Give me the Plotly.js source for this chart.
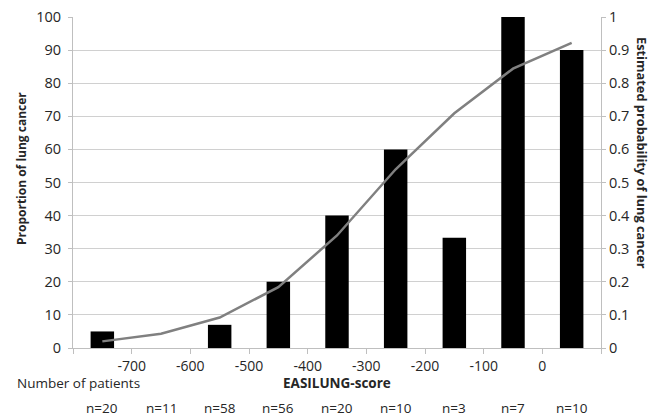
<!DOCTYPE html>
<html>
<head>
<meta charset="utf-8">
<script src="https://cdn.plot.ly/plotly-3.0.1.min.js"></script>
<style>html,body{margin:0;padding:0;background:#fff;}#chart{width:650px;height:418px;}</style>
</head>
<body>
<div id="chart"></div>
<script>
const scoreCenters = [-750, -650, -550, -450, -350, -250, -150, -50, 50];
const proportionLungCancer = [5, 0, 7, 20, 40, 60, 33.3, 100, 90];
const estimatedProbability = [0.02, 0.043, 0.092, 0.184, 0.34, 0.54, 0.709, 0.844, 0.922];
const patientCounts = ["n=20", "n=11", "n=58", "n=56", "n=20", "n=10", "n=3", "n=7", "n=10"];
const xTickValues = [-800, -700, -600, -500, -400, -300, -200, -100, 0, 100];
const xTickLabels = ["", "-700", "-600", "-500", "-400", "-300", "-200", "-100", "0", ""];

const FONT = "Open Sans, Noto Sans, sans-serif";
const TXT = "#262626";
const L = 73, R = 601, T = 17, B = 348;

const traces = [
  {
    type: "bar",
    x: scoreCenters,
    y: proportionLungCancer,
    width: 40,
    marker: {color: "#000000", line: {color: "#000000", width: 0}},
    yaxis: "y",
    hoverinfo: "skip"
  },
  {
    type: "scatter",
    mode: "lines",
    x: scoreCenters,
    y: estimatedProbability,
    line: {color: "#808080", width: 2.5},
    yaxis: "y2",
    hoverinfo: "skip"
  }
];

function py(pix) { return (B - pix) / (B - T); }
function px(pix) { return (pix - L) / (R - L); }

const annotations = patientCounts.map((t, i) => ({
  x: scoreCenters[i], xref: "x", y: py(408), yref: "paper",
  text: t, showarrow: false, xanchor: "center", yanchor: "middle",
  font: {family: FONT, size: 13.5, color: TXT}
}));
annotations.push(
  {x: px(15), xref: "paper", y: py(383), yref: "paper", text: "Number of patients", showarrow: false,
   xanchor: "left", yanchor: "middle", font: {family: FONT, size: 13.5, color: TXT}},
  {x: -350, xref: "x", y: py(383), yref: "paper", text: "<b>EASILUNG-score</b>", showarrow: false,
   xanchor: "center", yanchor: "middle", font: {family: FONT, size: 13.5, color: TXT}},
  {x: px(22), xref: "paper", y: py(169), yref: "paper", text: "<b>Proportion of lung cancer</b>", showarrow: false,
   textangle: -90, xanchor: "center", yanchor: "middle", font: {family: FONT, size: 12, color: TXT}},
  {x: px(642), xref: "paper", y: py(153), yref: "paper", text: "<b>Estimated probability of lung cancer</b>", showarrow: false,
   textangle: 90, xanchor: "center", yanchor: "middle", font: {family: FONT, size: 12.8, color: TXT}}
);

const layout = {
  width: 650, height: 418,
  margin: {l: L, r: 650 - R, t: T, b: 418 - B, pad: 0},
  paper_bgcolor: "#ffffff",
  plot_bgcolor: "#ffffff",
  showlegend: false,
  font: {family: FONT, size: 14, color: TXT},
  xaxis: {
    range: [-800, 100],
    tickmode: "array", tickvals: xTickValues, ticktext: xTickLabels,
    ticks: "outside", ticklen: 5, tickcolor: "#bfbfbf", tickwidth: 1,
    showgrid: false, zeroline: false,
    showline: true, linecolor: "#bfbfbf", linewidth: 1,
    tickfont: {family: FONT, size: 14, color: TXT}
  },
  yaxis: {
    range: [0, 100], dtick: 10,
    ticks: "outside", ticklen: 4, tickcolor: "#bfbfbf",
    ticklabelstandoff: 4,
    showgrid: true, gridcolor: "#d0d0d0", gridwidth: 1,
    zeroline: false, showline: true, linecolor: "#bfbfbf", linewidth: 1,
    tickfont: {family: FONT, size: 14.5, color: TXT}
  },
  yaxis2: {
    range: [0, 1], dtick: 0.1,
    overlaying: "y", side: "right",
    ticks: "outside", ticklen: 4, tickcolor: "#bfbfbf",
    showgrid: false, zeroline: false, showline: true, linecolor: "#bfbfbf", linewidth: 1,
    tickfont: {family: FONT, size: 14.5, color: TXT}
  },
  annotations: annotations
};

Plotly.newPlot("chart", traces, layout, {staticPlot: true, displayModeBar: false});
</script>
</body>
</html>
